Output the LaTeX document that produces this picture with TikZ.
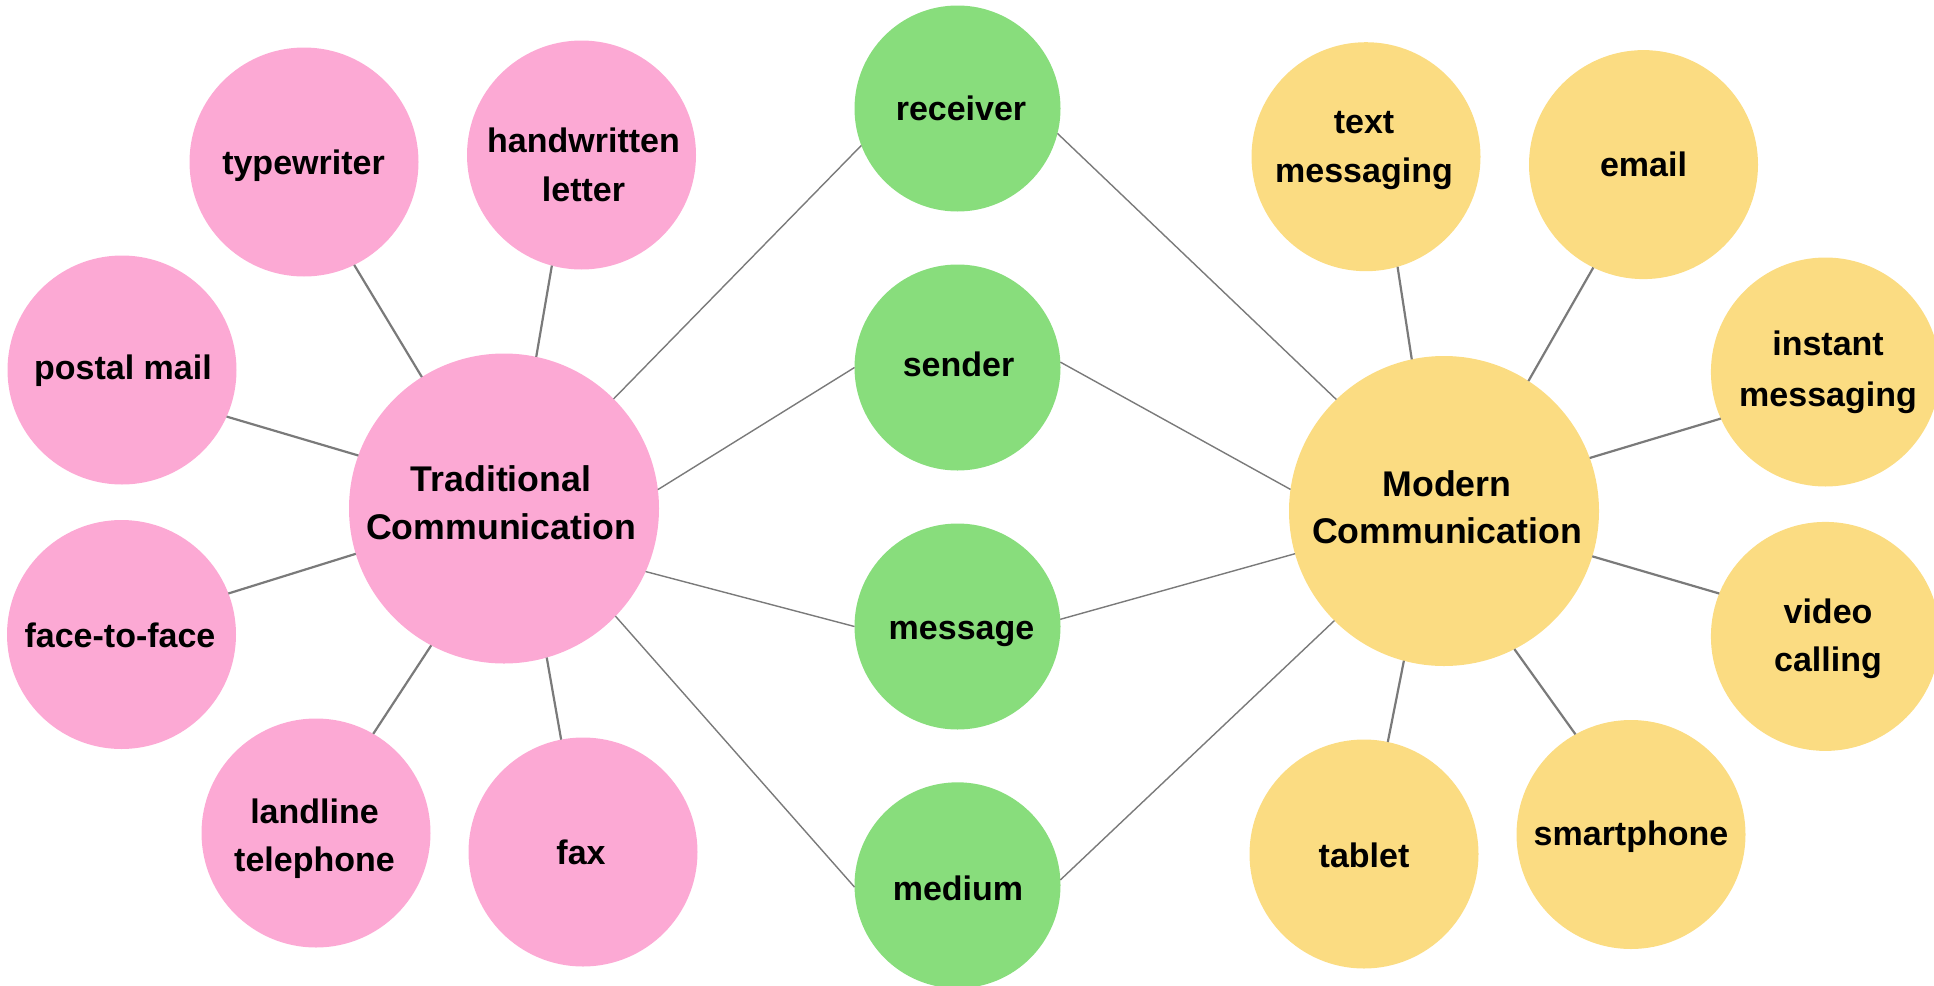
\documentclass[tikz,border=0pt]{standalone}
\usepackage{fontspec}
\setmainfont{Liberation Sans}
\definecolor{pk}{HTML}{FCA9D4}
\definecolor{gr}{HTML}{88DD7C}
\definecolor{yl}{HTML}{FBDC82}
\definecolor{linegray}{HTML}{7A7A7A}
\begin{document}
\begin{tikzpicture}[x=1pt,y=-1pt,
  circ/.style={circle,inner sep=0pt,outer sep=0pt,draw=none},
  hub/.style={circ,minimum size=310pt},
  sat/.style={circ,minimum size=229pt},
  mid/.style={circ,minimum size=206pt,fill=gr},
  txt/.style={inner sep=0pt,outer sep=0pt,anchor=base,font=\fontsize{34}{40}\selectfont\bfseries},
  htxt/.style={txt,font=\fontsize{35.7}{42}\selectfont\bfseries},
  satlink/.style={draw=linegray,line width=2.2pt},
  midlink/.style={draw=linegray,line width=1.4pt}]
\useasboundingbox (0,0) rectangle (1934,985);

% hubs
\node[hub,fill=pk] (trad) at (504,508.5) {};
\node[hub,fill=yl] (mod) at (1444,511) {};

% traditional satellites
\node[sat,fill=pk] (type) at (304,162) {};
\node[sat,fill=pk] (hand) at (581.5,155) {};
\node[sat,fill=pk] (post) at (122,370) {};
\node[sat,fill=pk] (face) at (121.5,634.5) {};
\node[sat,fill=pk] (land) at (316,833) {};
\node[sat,fill=pk] (fax) at (583,852) {};

% modern satellites
\node[sat,fill=yl] (sms) at (1366,156.7) {};
\node[sat,fill=yl] (mail) at (1643.5,164.6) {};
\node[sat,fill=yl] (im) at (1825.4,372) {};
\node[sat,fill=yl] (video) at (1825.4,636.4) {};
\node[sat,fill=yl] (smart) at (1631,834.5) {};
\node[sat,fill=yl] (tab) at (1364,854) {};

% shared nodes
\node[mid] (recv) at (957.5,108.5) {};
\node[mid] (send) at (957.5,367.5) {};
\node[mid] (msg) at (957.5,626.5) {};
\node[mid] (medm) at (957.5,885.3) {};

% connectors: traditional
\draw[satlink] (type.-64.8) -- (trad.122.8);
\draw[satlink] (hand.255.1) -- (trad.78.1);
\draw[satlink] (post.-24.3) -- (trad.160);
\draw[satlink] (face.21.1) -- (trad.197.5);
\draw[satlink] (land.60.4) -- (trad.242.9);
\draw[satlink] (fax.101.4) -- (trad.-74.4);
\draw[midlink] (trad.45.3) -- (recv.201.3);
\draw[midlink] (trad.7.7) -- (send.180);
\draw[midlink] (trad.-24) -- (msg.180);
\draw[midlink] (trad.-44.9) -- (medm.181.3);

% connectors: modern
\draw[midlink] (recv.-14.2) -- (mod.134.8);
\draw[midlink] (send.3.2) -- (mod.172.95);
\draw[midlink] (msg.4.3) -- (mod.196.1);
\draw[midlink] (medm.3.3) -- (mod.225.1);
\draw[satlink] (sms.-74.7) -- (mod.102);
\draw[satlink] (mail.244.8) -- (mod.57.6);
\draw[satlink] (im.204.6) -- (mod.20.1);
\draw[satlink] (video.158.3) -- (mod.-17.3);
\draw[satlink] (smart.119.6) -- (mod.-63);
\draw[satlink] (tab.78.7) -- (mod.-105.7);

% texts
\node[htxt] (tradA) at (501,491) {Traditional};
\node[htxt] (tradB) at (501,539) {Communication};
\node[htxt] (modA) at (1447,496.7) {Modern};
\node[htxt] (modB) at (1447,543.3) {Communication};

\node[txt] (typeT) at (303.5,174.3) {typewriter};
\node[txt] (handA) at (583.5,152.3) {handwritten};
\node[txt] (handB) at (583.5,201.7) {letter};
\node[txt] (postT) at (123,379) {postal mail};
\node[txt] (faceT) at (120,647) {face-to-face};
\node[txt] (landA) at (314.5,823.3) {landline};
\node[txt] (landB) at (314.5,871.7) {telephone};
\node[txt] (faxT) at (581,864) {fax};

\node[txt] (smsA) at (1364,133.3) {text};
\node[txt] (smsB) at (1364,182.7) {messaging};
\node[txt] (mailT) at (1643.5,176) {email};
\node[txt] (imA) at (1828,355.7) {instant};
\node[txt] (imB) at (1828,406.7) {messaging};
\node[txt] (videoA) at (1828,623.3) {video};
\node[txt] (videoB) at (1828,671.7) {calling};
\node[txt] (smartT) at (1631,845.5) {smartphone};
\node[txt] (tabT) at (1364,867) {tablet};

\node[txt] (recvT) at (961,120.7) {receiver};
\node[txt] (sendT) at (958.5,376.7) {sender};
\node[txt] (msgT) at (961.5,639.3) {message};
\node[txt] (medmT) at (958,900) {medium};
\end{tikzpicture}
\end{document}
